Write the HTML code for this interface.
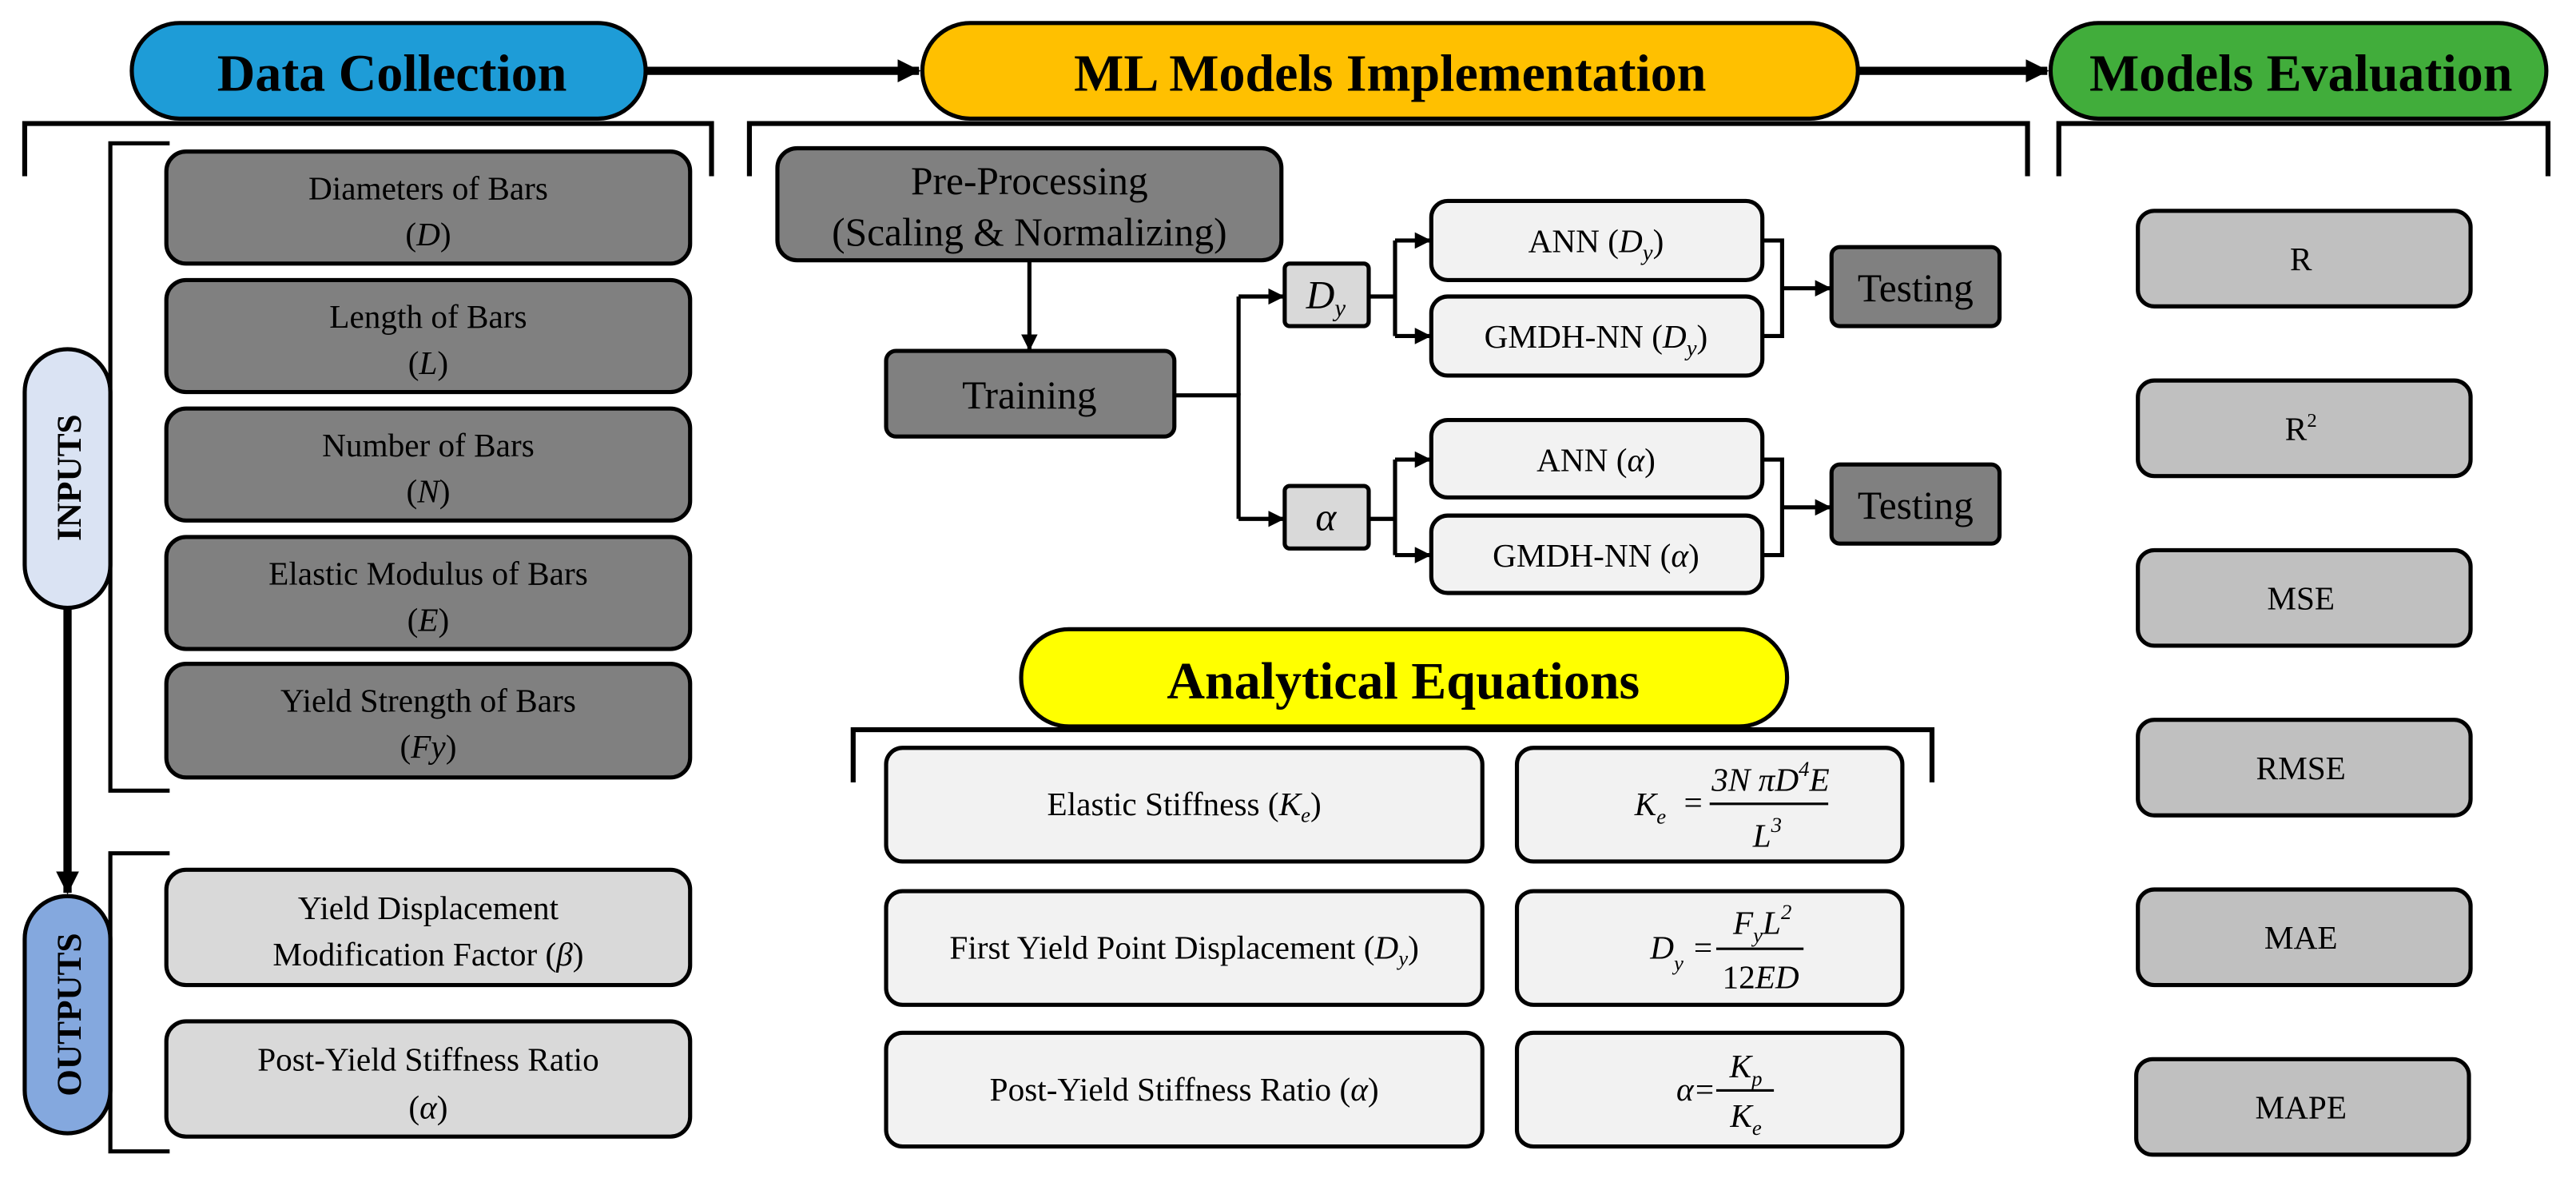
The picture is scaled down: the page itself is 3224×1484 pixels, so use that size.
<!DOCTYPE html>
<html><head><meta charset="utf-8"><style>
html,body{margin:0;padding:0;background:#fff}
svg{display:block;font-family:"Liberation Serif","Times New Roman","DejaVu Serif",serif}
svg text{font-family:"Liberation Serif","Times New Roman","DejaVu Serif",serif !important;fill:#000}
</style></head><body>
<svg width="3224" height="1484" viewBox="0 0 1564 720" preserveAspectRatio="none" xmlns="http://www.w3.org/2000/svg" font-family="Liberation Serif, Times New Roman, serif">
<defs>
<marker id="ah" markerWidth="10" markerHeight="10" refX="9" refY="5" orient="auto" markerUnits="userSpaceOnUse"><path d="M0,0 L10,5 L0,10 z" fill="#000"/></marker>
<marker id="ahb" markerWidth="14" markerHeight="14" refX="13" refY="7" orient="auto" markerUnits="userSpaceOnUse"><path d="M0,0 L14,7 L0,14 z" fill="#000"/></marker>
</defs>
<g stroke="#000" stroke-width="2.5" fill="none">
<rect x="80" y="14" width="312" height="58" rx="29" fill="#1E9CD7"/>
<rect x="560" y="14" width="568" height="58" rx="29" fill="#FFC000"/>
<rect x="1245" y="14" width="301" height="58" rx="29" fill="#41AD3B"/>
<line x1="392" y1="43" x2="558" y2="43" stroke-width="5" marker-end="url(#ahb)"/>
<line x1="1128" y1="43" x2="1243" y2="43" stroke-width="5" marker-end="url(#ahb)"/>
<path d="M15,107 V75 H432 V107" stroke-width="3"/>
<path d="M455,107 V75 H1231 V107" stroke-width="3"/>
<path d="M1250,107 V75 H1547 V107" stroke-width="3"/>
<path d="M103,87 H67 V480 H103"/>
<path d="M103,518 H67 V699 H103"/>
<rect x="101" y="92" width="318" height="68" rx="12" fill="#808080"/>
<rect x="101" y="170" width="318" height="68" rx="12" fill="#808080"/>
<rect x="101" y="248" width="318" height="68" rx="12" fill="#808080"/>
<rect x="101" y="326" width="318" height="68" rx="12" fill="#808080"/>
<rect x="101" y="403" width="318" height="69" rx="12" fill="#808080"/>
<rect x="15" y="212" width="52" height="157" rx="26" fill="#DAE3F3"/>
<line x1="41" y1="369" x2="41" y2="542" stroke-width="5" marker-end="url(#ahb)"/>
<rect x="15" y="544" width="52" height="144" rx="26" fill="#84A8DE"/>
<rect x="101" y="528" width="318" height="70" rx="12" fill="#D9D9D9"/>
<rect x="101" y="620" width="318" height="70" rx="12" fill="#D9D9D9"/>
<rect x="472" y="90" width="306" height="68" rx="12" fill="#808080"/>
<line x1="625" y1="158" x2="625" y2="212" marker-end="url(#ah)"/>
<rect x="538" y="213" width="175" height="52" rx="6" fill="#808080"/>
<path d="M713,240 H752 V315"/><path d="M752,240 V180"/>
<line x1="752" y1="180" x2="779" y2="180" marker-end="url(#ah)"/>
<line x1="752" y1="315" x2="779" y2="315" marker-end="url(#ah)"/>
<rect x="780" y="160" width="51" height="38" rx="3" fill="#D9D9D9"/>
<rect x="780" y="295" width="51" height="38" rx="3" fill="#D9D9D9"/>
<path d="M831,180 H847"/><path d="M847,146 V204"/>
<line x1="847" y1="146" x2="868" y2="146" marker-end="url(#ah)"/>
<line x1="847" y1="204" x2="868" y2="204" marker-end="url(#ah)"/>
<path d="M831,315 H847"/><path d="M847,279 V337"/>
<line x1="847" y1="279" x2="868" y2="279" marker-end="url(#ah)"/>
<line x1="847" y1="337" x2="868" y2="337" marker-end="url(#ah)"/>
<rect x="869" y="122" width="201" height="48" rx="10" fill="#F2F2F2"/>
<rect x="869" y="180" width="201" height="48" rx="10" fill="#F2F2F2"/>
<rect x="869" y="255" width="201" height="47" rx="10" fill="#F2F2F2"/>
<rect x="869" y="313" width="201" height="47" rx="10" fill="#F2F2F2"/>
<path d="M1070,146 H1082 V204 H1070"/>
<path d="M1070,279 H1082 V337 H1070"/>
<line x1="1082" y1="175" x2="1111" y2="175" marker-end="url(#ah)"/>
<line x1="1082" y1="308" x2="1111" y2="308" marker-end="url(#ah)"/>
<rect x="1112" y="150" width="102" height="48" rx="5" fill="#808080"/>
<rect x="1112" y="282" width="102" height="48" rx="5" fill="#808080"/>
<rect x="620" y="382" width="465" height="59" rx="29" fill="#FFFF00"/>
<path d="M518,475 V443 H1173 V475" stroke-width="3"/>
<rect x="538" y="454" width="362" height="69" rx="10" fill="#F2F2F2"/>
<rect x="538" y="541" width="362" height="69" rx="10" fill="#F2F2F2"/>
<rect x="538" y="627" width="362" height="69" rx="10" fill="#F2F2F2"/>
<rect x="921" y="454" width="234" height="69" rx="10" fill="#F2F2F2"/>
<rect x="921" y="541" width="234" height="69" rx="10" fill="#F2F2F2"/>
<rect x="921" y="627" width="234" height="69" rx="10" fill="#F2F2F2"/>
<line x1="1038" y1="488" x2="1110" y2="488" stroke-width="1.5"/>
<line x1="1042" y1="576" x2="1095" y2="576" stroke-width="1.5"/>
<line x1="1042" y1="662" x2="1077" y2="662" stroke-width="1.5"/>
<rect x="1298" y="128" width="202" height="58" rx="10" fill="#C0C0C0"/>
<rect x="1298" y="231" width="202" height="58" rx="10" fill="#C0C0C0"/>
<rect x="1298" y="334" width="202" height="58" rx="10" fill="#C0C0C0"/>
<rect x="1298" y="437" width="202" height="58" rx="10" fill="#C0C0C0"/>
<rect x="1298" y="540" width="202" height="58" rx="10" fill="#C0C0C0"/>
<rect x="1297" y="643" width="202" height="58" rx="10" fill="#C0C0C0"/>
</g>
<g text-anchor="middle" font-family="Liberation Serif, Times New Roman, serif">
<text x="238" y="55" font-size="32" font-weight="bold">Data Collection</text>
<text x="844" y="55" font-size="32" font-weight="bold">ML Models Implementation</text>
<text x="1397" y="55" font-size="32" font-weight="bold">Models Evaluation</text>
<text x="852" y="424" font-size="32" font-weight="bold">Analytical Equations</text>
<g font-size="20">
<text x="260" y="121">Diameters of Bars</text><text x="260" y="149">(<tspan font-style="italic">D</tspan>)</text>
<text x="260" y="199">Length of Bars</text><text x="260" y="227">(<tspan font-style="italic">L</tspan>)</text>
<text x="260" y="277">Number of Bars</text><text x="260" y="305">(<tspan font-style="italic">N</tspan>)</text>
<text x="260" y="355">Elastic Modulus of Bars</text><text x="260" y="383">(<tspan font-style="italic">E</tspan>)</text>
<text x="260" y="432">Yield Strength of Bars</text><text x="260" y="460">(<tspan font-style="italic">Fy</tspan>)</text>
<text x="260" y="558">Yield Displacement</text><text x="260" y="586">Modification Factor (<tspan font-style="italic">β</tspan>)</text>
<text x="260" y="650">Post-Yield Stiffness Ratio</text><text x="260" y="679">(<tspan font-style="italic">α</tspan>)</text>
</g>
<text transform="translate(49,290) rotate(-90)" font-size="21" font-weight="bold">INPUTS</text>
<text transform="translate(49,616) rotate(-90)" font-size="21" font-weight="bold">OUTPUTS</text>
<g font-size="24">
<text x="625" y="118">Pre-Processing</text><text x="625" y="149">(Scaling &amp; Normalizing)</text>
<text x="625" y="248">Training</text>
<text x="1163" y="183">Testing</text><text x="1163" y="315">Testing</text>
<text x="805" y="187" font-style="italic">D<tspan font-size="15" dy="5">y</tspan></text>
<text x="805" y="322" font-style="italic">α</text>
</g>
<g font-size="20">
<text x="969" y="153">ANN (<tspan font-style="italic">D<tspan font-size="14" dy="5">y</tspan></tspan><tspan dy="-5">)</tspan></text>
<text x="969" y="211">GMDH-NN (<tspan font-style="italic">D<tspan font-size="14" dy="5">y</tspan></tspan><tspan dy="-5">)</tspan></text>
<text x="969" y="286">ANN (<tspan font-style="italic">α</tspan>)</text>
<text x="969" y="344">GMDH-NN (<tspan font-style="italic">α</tspan>)</text>
<text x="719" y="495">Elastic Stiffness (<tspan font-style="italic">K<tspan font-size="13" dy="4">e</tspan></tspan><tspan dy="-4">)</tspan></text>
<text x="719" y="582">First Yield Point Displacement (<tspan font-style="italic">D<tspan font-size="13" dy="4">y</tspan></tspan><tspan dy="-4">)</tspan></text>
<text x="719" y="668">Post-Yield Stiffness Ratio (<tspan font-style="italic">α</tspan>)</text>
<text x="1397" y="164">R</text>
<text x="1397" y="267">R<tspan font-size="12" dy="-8">2</tspan></text>
<text x="1397" y="370">MSE</text>
<text x="1397" y="473">RMSE</text>
<text x="1397" y="576">MAE</text>
<text x="1397" y="679">MAPE</text>
</g>
<g font-size="20" font-style="italic">
<text x="1002" y="495">K<tspan font-size="13" dy="5">e</tspan></text><text x="1028" y="494" font-style="normal">=</text>
<text x="1075" y="480">3N πD<tspan font-size="13" dy="-9">4</tspan><tspan dy="9">E</tspan></text>
<text x="1073" y="514">L<tspan font-size="13" dy="-9">3</tspan></text>
<text x="1012" y="582">D<tspan font-size="13" dy="7">y</tspan></text><text x="1034" y="582" font-style="normal">=</text>
<text x="1070" y="567">F<tspan font-size="13" dy="5">y</tspan><tspan dy="-5">L</tspan><tspan font-size="13" dy="-9">2</tspan></text>
<text x="1069" y="600"><tspan font-style="normal">12</tspan>ED</text>
<text x="1023" y="668">α</text><text x="1035" y="668" font-style="normal">=</text>
<text x="1060" y="654">K<tspan font-size="13" dy="5">p</tspan></text>
<text x="1060" y="684">K<tspan font-size="13" dy="5">e</tspan></text>
</g>
</g>
</svg>
</body></html>
